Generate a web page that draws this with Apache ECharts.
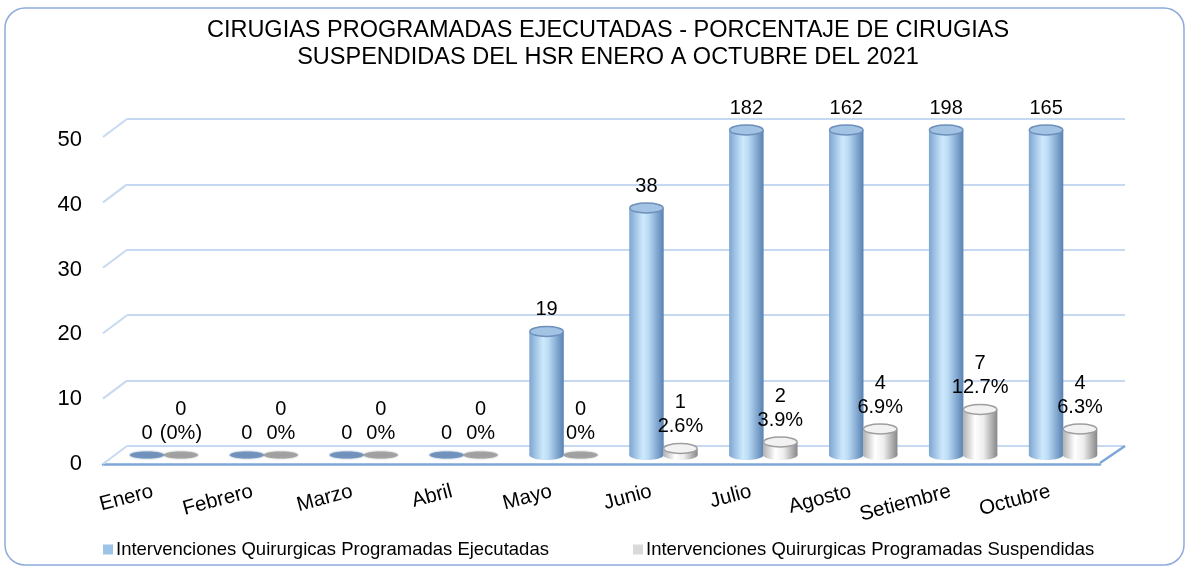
<!DOCTYPE html>
<html>
<head>
<meta charset="utf-8">
<script src="https://cdn.jsdelivr.net/npm/echarts@6/dist/echarts.min.js"></script>
<style>
  html, body { margin: 0; padding: 0; background: #fff; }
  #chart { width: 1189px; height: 568px; }
</style>
</head>
<body>
<div id="chart"></div>
<script>
// datos del grafico
var meses = ['Enero', 'Febrero', 'Marzo', 'Abril', 'Mayo', 'Junio', 'Julio', 'Agosto', 'Setiembre', 'Octubre'];
var ejecutadas = [0, 0, 0, 0, 19, 38, 182, 162, 198, 165];
var suspendidas = [0, 0, 0, 0, 0, 1, 2, 4, 7, 4];
var porcentajes = ['(0%)', '0%', '0%', '0%', '0%', '2.6%', '3.9%', '6.9%', '12.7%', '6.3%'];
var ejeY = [0, 10, 20, 30, 40, 50];

var nombreEje = 'Intervenciones Quirurgicas Programadas Ejecutadas';
var nombreSus = 'Intervenciones Quirurgicas Programadas Suspendidas';
var fuente = '"Liberation Sans", Arial, sans-serif';

var myChart = echarts.init(document.getElementById('chart'));

// cilindro 3D dibujado con custom series
function cilindro(offset, colores, tapa, borde, etiqueta) {
  return function (params, api) {
    var idx = api.value(0);
    var v = api.value(1);
    var base = api.coord([idx, 0]);
    var top = api.coord([idx, v]);
    var band = api.size([1, 0])[0];
    var w = band * 0.345;
    var cx = base[0] + offset * band;
    var topY = Math.max(top[1], params.coordSys.y); // recorta en 50
    var ry = 5;
    var grad = new echarts.graphic.LinearGradient(0, 0, 1, 0, colores);
    var children = [];
    if (v === 0) {
      children.push({
        type: 'ellipse',
        shape: { cx: cx, cy: base[1], rx: w / 2, ry: 3.5 },
        style: { fill: borde, opacity: 0.85, shadowBlur: 2, shadowColor: borde }
      });
    } else {
      children.push({
        type: 'ellipse',
        shape: { cx: cx, cy: base[1], rx: w / 2, ry: ry },
        style: { fill: grad }
      });
      children.push({
        type: 'rect',
        shape: { x: cx - w / 2, y: topY, width: w, height: base[1] - topY },
        style: { fill: grad }
      });
      children.push({
        type: 'ellipse',
        shape: { cx: cx, cy: topY, rx: w / 2 - 0.5, ry: ry },
        style: { fill: tapa, stroke: borde, lineWidth: 1.4 }
      });
    }
    children.push({
      type: 'text',
      x: cx,
      y: topY - 10,
      z2: 10,
      style: {
        text: etiqueta(params.dataIndex),
        textAlign: 'center',
        textVerticalAlign: 'bottom',
        fontSize: 20,
        lineHeight: 24,
        fontFamily: fuente,
        fill: '#000'
      }
    });
    return { type: 'group', children: children };
  };
}

var option = {
  animation: false,
  textStyle: { fontFamily: fuente },
  title: {
    text: 'CIRUGIAS PROGRAMADAS EJECUTADAS - PORCENTAJE DE CIRUGIAS\nSUSPENDIDAS DEL HSR ENERO A OCTUBRE DEL 2021',
    left: 608,
    top: 17,
    padding: 0,
    textAlign: 'center',
    textStyle: { fontSize: 23.5, lineHeight: 27, fontWeight: 'normal', color: '#000', fontFamily: fuente }
  },
  legend: [{
    data: [nombreEje],
    left: 103, top: 540,
    padding: 0,
    icon: 'rect', itemWidth: 10, itemHeight: 10,
    selectedMode: false,
    textStyle: { fontSize: 18.5, color: '#000', fontFamily: fuente, padding: [0, 0, 0, -2] }
  }, {
    data: [nombreSus],
    left: 633, top: 540,
    padding: 0,
    icon: 'rect', itemWidth: 10, itemHeight: 10,
    selectedMode: false,
    textStyle: { fontSize: 18.5, color: '#000', fontFamily: fuente, padding: [0, 0, 0, -2] }
  }],
  graphic: [{
    type: 'rect',
    shape: { x: 5, y: 8, width: 1179, height: 557, r: 20 },
    style: { fill: 'none', stroke: '#8eaadb', lineWidth: 1.5 },
    z: -1
  }],
  grid: [
    { left: 114, right: 76, top: 130, bottom: 113 },  // barras
    { left: 127, right: 64, top: 119, bottom: 122 },  // pared del fondo
    { left: 103, right: 89, top: 140, bottom: 104 }   // etiquetas, borde del piso
  ],
  xAxis: [{
    gridIndex: 0, type: 'category', data: meses, show: false
  }, {
    gridIndex: 1, type: 'value', min: 0, max: 1, show: false
  }, {
    gridIndex: 2,
    type: 'category',
    data: meses,
    axisLine: { show: true, lineStyle: { color: '#7ea6d8', width: 2.5 } },
    axisTick: { show: false },
    axisLabel: { rotate: 15, margin: 27, fontSize: 20.5, color: '#000', interval: 0 },
    splitLine: { show: false }
  }],
  yAxis: [{
    gridIndex: 0, type: 'value', min: 0, max: 50, interval: 10, show: false
  }, {
    gridIndex: 1, type: 'value', min: 0, max: 50, interval: 10,
    axisLine: { show: false }, axisTick: { show: false }, axisLabel: { show: false },
    splitLine: { show: true, lineStyle: { color: '#c6d9f0', width: 2 } }
  }, {
    gridIndex: 2, type: 'value', min: 0, max: 50, interval: 10,
    axisLine: { show: false }, axisTick: { show: false },
    axisLabel: { fontSize: 22, color: '#000', margin: 21 },
    splitLine: { show: false }
  }],
  series: [{
    // esquinas inclinadas de la pared y del piso
    type: 'custom',
    xAxisIndex: 1, yAxisIndex: 1,
    silent: true,
    z: 1,
    data: ejeY.map(function (v) { return [0, v]; }),
    renderItem: function (params, api) {
      var p = api.coord([0, api.value(1)]);
      var children = [{
        type: 'line',
        shape: { x1: p[0] - 24, y1: p[1] + 18, x2: p[0], y2: p[1] },
        style: { stroke: '#c6d9f0', lineWidth: 2 }
      }];
      if (api.value(1) === 0) {
        var q = api.coord([1, 0]);
        children.push({
          type: 'line',
          shape: { x1: q[0] - 25, y1: q[1] + 17, x2: q[0], y2: q[1] },
          style: { stroke: '#7ea6d8', lineWidth: 2.5 }
        });
      }
      return { type: 'group', children: children };
    }
  }, {
    name: nombreEje,
    type: 'custom',
    xAxisIndex: 0, yAxisIndex: 0,
    itemStyle: { color: '#9dc3e6' },
    z: 3,
    data: ejecutadas.map(function (v, i) { return [i, v]; }),
    renderItem: cilindro(-0.17,
      [{ offset: 0, color: '#7ea5d2' }, { offset: 0.4, color: '#cdeafc' },
       { offset: 0.55, color: '#bcdcf5' }, { offset: 1, color: '#5882b4' }],
      '#a3c3e4', '#6d8fba',
      function (i) { return String(ejecutadas[i]); })
  }, {
    name: nombreSus,
    type: 'custom',
    xAxisIndex: 0, yAxisIndex: 0,
    itemStyle: { color: '#d9d9d9' },
    z: 3,
    data: suspendidas.map(function (v, i) { return [i, v]; }),
    renderItem: cilindro(0.17,
      [{ offset: 0, color: '#b0b0b0' }, { offset: 0.35, color: '#ffffff' },
       { offset: 0.6, color: '#ededed' }, { offset: 1, color: '#878787' }],
      '#f2f2f2', '#9f9f9f',
      function (i) { return suspendidas[i] + '\n' + porcentajes[i]; })
  }]
};

option && myChart.setOption(option);
</script>
</body>
</html>
